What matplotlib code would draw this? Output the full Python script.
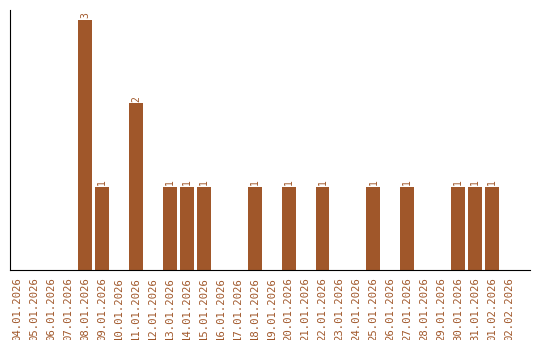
import matplotlib
matplotlib.use("Agg")
import matplotlib.pyplot as plt

dates = ["04.01.2026", "05.01.2026", "06.01.2026", "07.01.2026", "08.01.2026",
         "09.01.2026", "10.01.2026", "11.01.2026", "12.01.2026", "13.01.2026",
         "14.01.2026", "15.01.2026", "16.01.2026", "17.01.2026", "18.01.2026",
         "19.01.2026", "20.01.2026", "21.01.2026", "22.01.2026", "23.01.2026",
         "24.01.2026", "25.01.2026", "26.01.2026", "27.01.2026", "28.01.2026",
         "29.01.2026", "30.01.2026", "31.01.2026", "01.02.2026", "02.02.2026"]
counts = [0, 0, 0, 0, 3, 1, 0, 2, 0, 1,
          1, 1, 0, 0, 1, 0, 1, 0, 1, 0,
          0, 1, 0, 1, 0, 0, 1, 1, 1, 0]

color = "#a0572a"

fig = plt.figure(figsize=(5.4, 3.4), dpi=100)
ax = fig.add_axes([10 / 540, 70 / 340, 520 / 540, 260 / 340])

x = list(range(len(dates)))
ax.bar(x, counts, width=0.82, color=color)
for i, v in enumerate(counts):
    if v > 0:
        ax.text(i, v + 0.02, str(v), rotation=90, ha="center", va="bottom",
                fontsize=7, color=color, family="DejaVu Sans Mono")

ax.set_xlim(-0.42, 30.23)
ax.set_ylim(0, 3.12)
ax.set_xticks(x)
ax.set_xticklabels(dates, rotation=90, fontsize=7.7, color=color,
                   family="DejaVu Sans Mono")
ax.tick_params(axis="x", length=0, pad=5)
ax.set_yticks([])
ax.spines["top"].set_visible(False)
ax.spines["right"].set_visible(False)

fig.savefig("out.png", dpi=100)
